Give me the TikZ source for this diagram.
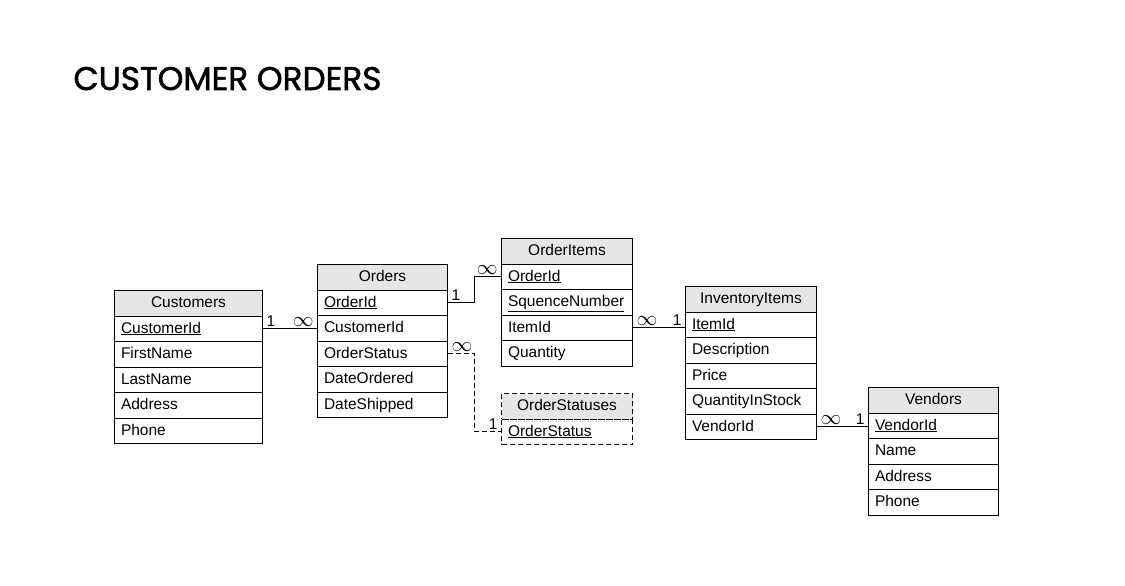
\documentclass[tikz,border=0pt]{standalone}
\usepackage{fontspec}
\setmainfont{Liberation Sans}
\newfontfamily\titlefont{Poppins}[FakeBold=1.6]
\usetikzlibrary{positioning}
\usetikzlibrary{calc}

\definecolor{headgray}{HTML}{E6E6E6}

\begin{document}
\begin{tikzpicture}[x=1pt, y=-1pt, line width=1pt,
    tablehead/.style={draw, fill=headgray, minimum height=25.5pt, inner sep=0pt,
      text height=11.5pt, text depth=3pt},
    tablerow/.style={draw, minimum height=25.5pt, inner xsep=6.5pt, inner ysep=0pt,
      text height=11.5pt, text depth=3pt, align=left},
    dashedline/.style={dash pattern=on 5pt off 3pt},
    card/.style={font=\fontsize{15.5}{18}\selectfont, inner xsep=3pt, inner ysep=1.5pt}]

    \useasboundingbox (0,0) rectangle (1125,586);
    \fontsize{15.5}{18}\selectfont

    \newcommand{\drawTable}[6][]{
      % #1 = extra style, #2 = name, #3 = left x, #4 = top y
      % #5 = width, #6 = title / rows
      \pgfmathsetlengthmacro{\rowWidth}{#5-13}
      \foreach \row [count=\i from 0] in {#6} {
        \ifnum\i=0
          \node [tablehead, #1, minimum width=#5, anchor=north west] (#2) at (#3, #4) {\row};
        \else
          \node [tablerow, #1, text width=\rowWidth, anchor=north west] (#2-\i) at (#3, #4+\i*25.5) {\row};
        \fi
      }
    }
    \newcommand{\many}{{\fontsize{20}{20}\selectfont$\infty$}}

    \node [anchor=base west, inner sep=0pt] (Title) at (73, 90)
      {\titlefont\fontsize{32.7}{35}\selectfont CUSTOMER ORDERS};

    \drawTable{Customers}{114}{290}{148}{Customers, \underline{CustomerId}, FirstName, LastName, Address, Phone}
    \drawTable{Orders}{317}{264}{130}{Orders, \underline{OrderId}, CustomerId, OrderStatus, DateOrdered, DateShipped}
    \drawTable{OrderItems}{501}{238}{131}{OrderItems, \underline{OrderId}, \underline{SquenceNumber}, ItemId, Quantity}
    \drawTable[dashedline]{OrderStatuses}{501}{393}{131}{OrderStatuses, \underline{OrderStatus}}
    \drawTable{InventoryItems}{685}{286}{131}{InventoryItems, \underline{ItemId}, Description, Price, QuantityInStock, VendorId}
    \drawTable{Vendors}{868}{387}{130}{Vendors, \underline{VendorId}, Name, Address, Phone}

    % relationships
    \draw (Customers-1.east) node [card, above right] {1}
      -- (Customers-1.east -| Orders-2.west) node [card, above left] {\many};
    \draw (Orders-1.east) node [card, above right] {1}
      -| ($(Orders-1.east)!0.5!(OrderItems-1.west)$) |- (OrderItems-1.west)
      node [card, above left] {\many};
    \draw [dashedline] (Orders-3.east) node [card, above right] {\many}
      -| ($(Orders-3.east)!0.5!(OrderStatuses-1.west)$) |- (OrderStatuses-1.west)
      node [card, above left] {1};
    \draw (OrderItems-3.east) node [card, above right] {\many}
      -- (OrderItems-3.east -| InventoryItems-1.west) node [card, above left] {1};
    \draw (InventoryItems-5.east) node [card, above right] {\many}
      -- (InventoryItems-5.east -| Vendors-1.west) node [card, above left] {1};

\end{tikzpicture}
\end{document}
